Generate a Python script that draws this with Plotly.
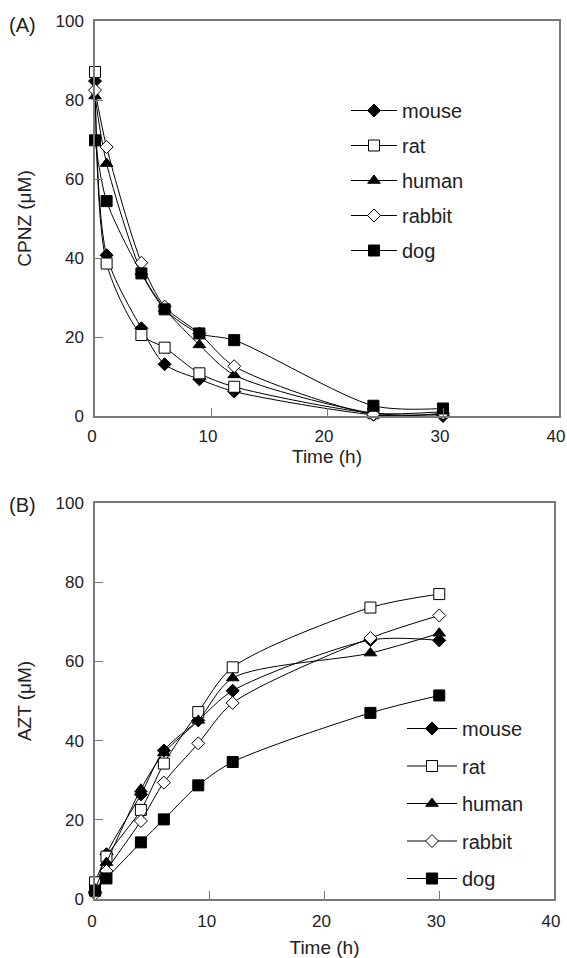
import plotly.graph_objects as go

# ---- data ----
time_h = [0, 1, 4, 6, 9, 12, 24, 30]
species = ["mouse", "rat", "human", "rabbit", "dog"]

cpnz_mouse = [84.8, 40.7, 22.2, 13.1, 9.3, 6.2, 0.3, 0.0]
cpnz_rat = [87.1, 38.6, 20.5, 17.3, 10.8, 7.4, 0.7, 1.1]
cpnz_human = [81.0, 63.9, 36.5, 27.2, 18.0, 10.4, 0.7, 0.4]
cpnz_rabbit = [82.5, 68.1, 38.8, 27.7, 20.9, 12.6, 0.4, 0.7]
cpnz_dog = [69.8, 54.4, 36.1, 27.0, 20.9, 19.2, 2.6, 1.9]

azt_mouse = [1.7, 11.3, 26.4, 37.5, 45.1, 52.6, 65.4, 65.3]
azt_rat = [4.2, 10.7, 22.5, 34.2, 47.2, 58.5, 73.6, 77.0]
azt_human = [2.5, 9.2, 27.7, 36.9, 45.1, 55.8, 62.1, 67.1]
azt_rabbit = [1.3, 7.1, 19.7, 29.4, 39.3, 49.5, 65.9, 71.6]
azt_dog = [2.1, 5.2, 14.3, 20.1, 28.7, 34.6, 47.0, 51.4]

x_ticks = [0, 10, 20, 30, 40]
y_ticks = [0, 20, 40, 60, 80, 100]

cpnz = [cpnz_mouse, cpnz_rat, cpnz_human, cpnz_rabbit, cpnz_dog]
azt = [azt_mouse, azt_rat, azt_human, azt_rabbit, azt_dog]

# ---- styles ----
symbols = ["diamond", "square", "triangle-up", "diamond", "square"]
fills = ["black", "white", "black", "white", "black"]
sizes = [10, 11, 11, 10, 11]

W, H = 567, 958
FONT = "Liberation Sans, Arial, sans-serif"

fig = go.Figure()

for panel, (data, xa, ya, leg) in enumerate([(cpnz, "x", "y", "legend"), (azt, "x2", "y2", "legend2")]):
    for i, name in enumerate(species):
        fig.add_trace(go.Scatter(
            x=time_h, y=data[i], name=name, mode="lines+markers",
            xaxis=xa, yaxis=ya, legend=leg, legendgroup=f"{leg}_{name}",
            line=dict(color="black", width=1, shape="spline", smoothing=0.8),
            marker=dict(symbol=symbols[i], size=sizes[i], color=fills[i],
                        line=dict(color="black", width=1)),
            cliponaxis=False,
        ))

def px_x(p):
    return p / W

def px_y(p):
    return 1 - p / H

axis_common = dict(
    showgrid=False, zeroline=False, showline=True, linecolor="#7a7a7a", linewidth=1.5,
    mirror=True, ticks="inside", ticklen=8, tickwidth=1, tickcolor="#7a7a7a",
    tickfont=dict(family=FONT, size=17, color="#222"), automargin=False,
    ticklabeloverflow="allow",
)

fig.update_layout(
    width=W, height=H, margin=dict(l=0, r=0, t=0, b=0, autoexpand=False),
    paper_bgcolor="white", plot_bgcolor="white",
    font=dict(family=FONT, color="#222"),
    xaxis=dict(domain=[px_x(95), px_x(559)], range=[0, 40], tickvals=x_ticks, anchor="y",
               title=dict(text="Time (h)", font=dict(size=19), standoff=4), ticklabelstandoff=4,
               ticklabelshift=-3, **axis_common),
    yaxis=dict(domain=[px_y(416), px_y(21)], range=[0, 100], tickvals=y_ticks, anchor="x",
               title=dict(text="CPNZ (μM)", font=dict(size=19), standoff=19), ticklabelstandoff=6, **axis_common),
    xaxis2=dict(domain=[px_x(95), px_x(554)], range=[0, 40], tickvals=x_ticks, anchor="y2",
                title=dict(text="Time (h)", font=dict(size=19), standoff=12), ticklabelstandoff=6,
                ticklabelshift=-3, **axis_common),
    yaxis2=dict(domain=[px_y(899), px_y(503)], range=[0, 100], tickvals=y_ticks, anchor="x2",
                title=dict(text="AZT (μM)", font=dict(size=19), standoff=19), ticklabelstandoff=6, **axis_common),
    legend=dict(x=px_x(346), y=px_y(91), xanchor="left", yanchor="top", bgcolor="rgba(0,0,0,0)",
                font=dict(family=FONT, size=20, color="#222"), tracegroupgap=6, itemwidth=46),
    legend2=dict(x=px_x(402), y=px_y(709), xanchor="left", yanchor="top", bgcolor="rgba(0,0,0,0)",
                 font=dict(family=FONT, size=20, color="#222"), tracegroupgap=8.5, itemwidth=50),
    showlegend=True,
    annotations=[
        dict(text="(A)", x=px_x(22), y=px_y(25), xref="paper", yref="paper", showarrow=False,
             xanchor="center", yanchor="middle", font=dict(family=FONT, size=20, color="#222")),
        dict(text="(B)", x=px_x(22), y=px_y(505), xref="paper", yref="paper", showarrow=False,
             xanchor="center", yanchor="middle", font=dict(family=FONT, size=20, color="#222")),
    ],
)

fig.write_html("out.html")
